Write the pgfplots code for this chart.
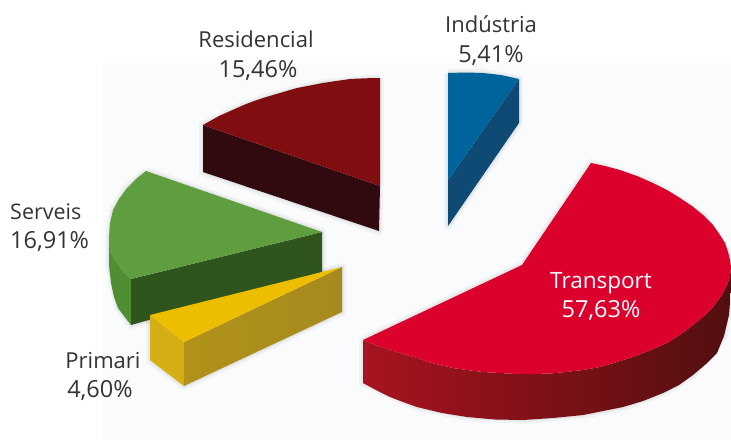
\documentclass[border=0pt]{standalone}
\usepackage{pgfplots}
\pgfplotsset{compat=1.18}
\usepackage{fontspec}
\setmainfont{Open Sans}
\definecolor{bgc}{HTML}{F9FBFD}
\definecolor{tr}{HTML}{DC002D}
\definecolor{trA}{HTML}{A8131F}
\definecolor{trB}{HTML}{7C1118}
\definecolor{trC}{HTML}{520F10}
\definecolor{re}{HTML}{800E10}
\definecolor{reS}{HTML}{300A0E}
\definecolor{bl}{HTML}{00649C}
\definecolor{blS}{HTML}{0F4A74}
\definecolor{gr}{HTML}{5E9E3F}
\definecolor{grS}{HTML}{2F541C}
\definecolor{grO}{HTML}{4F8E33}
\definecolor{ye}{HTML}{EDBE00}
\definecolor{yeL}{HTML}{D4AE14}
\definecolor{yeR}{HTML}{A68A1E}
\definecolor{txt}{HTML}{333333}
\newcommand{\lab}[6]{%
\node[inner sep=0pt,font=\fontsize{#6}{#6}\selectfont,text=#5,anchor=#4] at (axis cs:#1,#2) {#3};}
\begin{document}
\begin{tikzpicture}
\useasboundingbox (0,0) rectangle (731pt,440pt);
\begin{axis}[at={(0,0)},anchor=south west,width=731pt,height=440pt,scale only axis,xmin=0,xmax=731,ymin=0,ymax=440,y dir=reverse,hide axis,clip=true,
  sh/.style={draw=black,draw opacity=.035,line width=8pt,line join=round,fill=none},
  si/.style={draw=black,draw opacity=.05,line width=3.5pt,line join=round,fill=none}]
% background
\addplot[fill=bgc,draw=none] coordinates {(103,63)(731,63)(731,440)(103,440)};
% soft shadows
\addplot[sh] coordinates {(363,340)(522,265)(591,163)(653,183)(703,215)(728,252)(731,290)(724,336)(693,375)(663,393)(623,407)(583,415)(523,420)(467,417)(417,407)(363,383)(363,340)};
\addplot[si] coordinates {(363,340)(522,265)(591,163)(653,183)(703,215)(728,252)(731,290)(724,336)(693,375)(663,393)(623,407)(583,415)(523,420)(467,417)(417,407)(363,383)(363,340)};
\addplot[sh] coordinates {(448,73)(483,73)(519,79)(519,123)(448,226)(448,73)};
\addplot[si] coordinates {(448,73)(483,73)(519,79)(519,123)(448,226)(448,73)};
\addplot[sh] coordinates {(380,78)(323,83)(273,95)(237,108)(203,125)(203,172)(379,231)(380,78)};
\addplot[si] coordinates {(380,78)(323,83)(273,95)(237,108)(203,125)(203,172)(379,231)(380,78)};
\addplot[sh] coordinates {(146,171)(322,232)(322,272)(131,325)(118,308)(109,265)(109,237)(113,210)(127,188)(146,171)};
\addplot[si] coordinates {(146,171)(322,232)(322,272)(131,325)(118,308)(109,265)(109,237)(113,210)(127,188)(146,171)};
\addplot[sh] coordinates {(150,315)(342,267)(342,312)(184,386)(150,360)(150,315)};
\addplot[si] coordinates {(150,315)(342,267)(342,312)(184,386)(150,360)(150,315)};
% Transport side
\addplot[draw=none,left color=trA,middle color=trB,right color=trC] coordinates {(363,340)(363,383)(376,390)(390,397)(403,402)(417,407)(442,413)(467,417)(495,419.5)(523,420)(553,418)(583,415)(603,411)(623,407)(643,401)(663,393)(679,385)(693,375)(706,364)(717,353)(724,336)(729,315)(731,290)(731,267)(730,276)(727,285)(721,296)(713,307)(704,316)(693,325)(681,334)(667,343)(651,350)(633,357)(617,362)(600,367)(583,370)(566,372)(550,373.5)(533,374)(517,374)(500,373)(483,372)(467,370)(453,368)(440,365)(428,362)(417,358)(403,354)(390,350)(376,345)};
% Transport top
\addplot[fill=tr,draw=none] coordinates {(363,340)(522,265)(591,163)(605,166)(620,170)(637,176)(653,183)(667,190)(680,198)(692,206)(703,215)(713,225)(720,235)(725,243)(728,252)(730,260)(731,267)(730,276)(727,285)(721,296)(713,307)(704,316)(693,325)(681,334)(667,343)(651,350)(633,357)(617,362)(600,367)(583,370)(566,372)(550,373.5)(533,374)(517,374)(500,373)(483,372)(467,370)(453,368)(440,365)(428,362)(417,358)(403,354)(390,350)(376,345)};
% Industria
\addplot[fill=blS,draw=none] coordinates {(448,180)(519,79)(519,123)(448,226)};
\addplot[fill=bl,draw=none] coordinates {(448,73)(466,72.5)(483,73)(501,75)(519,79)(448,180)};
% Residencial
\addplot[fill=reS,draw=none] coordinates {(203,125)(380,186)(379,231)(203,172)};
\addplot[fill=re,draw=none] coordinates {(380,78)(365,78.3)(350,79)(336,81)(323,83)(310,85.5)(297,88)(285,91.5)(273,95)(263,98)(254,101)(245,104.5)(237,108)(228,112)(219,116)(211,120.5)(203,125)(380,186)};
% Serveis
\addplot[fill=grO,draw=none] coordinates {(109,237)(110,250)(113,257)(118,264)(124,272)(131,279)(131,325)(124,316)(118,308)(114,297)(111,283)(109,265)};
\addplot[fill=grS,draw=none] coordinates {(131,279)(322,232)(322,272)(131,325)};
\addplot[fill=gr,draw=none] coordinates {(146,171)(136,179)(127,188)(119,199)(113,210)(110,223)(109,237)(109,243)(110,250)(113,257)(118,264)(124,272)(131,279)(322,232)};
% Primari
\addplot[fill=yeL,draw=none] coordinates {(150,315)(184,342)(184,386)(150,360)};
\addplot[draw=none,left color=yeR!85!ye,right color=yeR] coordinates {(184,342)(342,267)(342,312)(184,386)};
\addplot[fill=ye,draw=none] coordinates {(150,315)(342,267)(184,342)};
% labels
\lab{256}{47}{Residencial}{base}{txt}{22}
\lab{258}{77}{15,46\%}{base}{txt}{23.5}
\lab{491}{32}{Indústria}{base}{txt}{22}
\lab{491}{62}{5,41\%}{base}{txt}{23.5}
\lab{10}{219}{Serveis}{base west}{txt}{21.5}
\lab{10}{248}{16,91\%}{base west}{txt}{23.5}
\lab{103}{368}{Primari}{base}{txt}{22}
\lab{100}{397}{4,60\%}{base}{txt}{23.5}
\lab{601}{288}{Transport}{base}{white}{22.5}
\lab{601}{317}{57,63\%}{base}{white}{23.5}
\end{axis}
\end{tikzpicture}
\end{document}
